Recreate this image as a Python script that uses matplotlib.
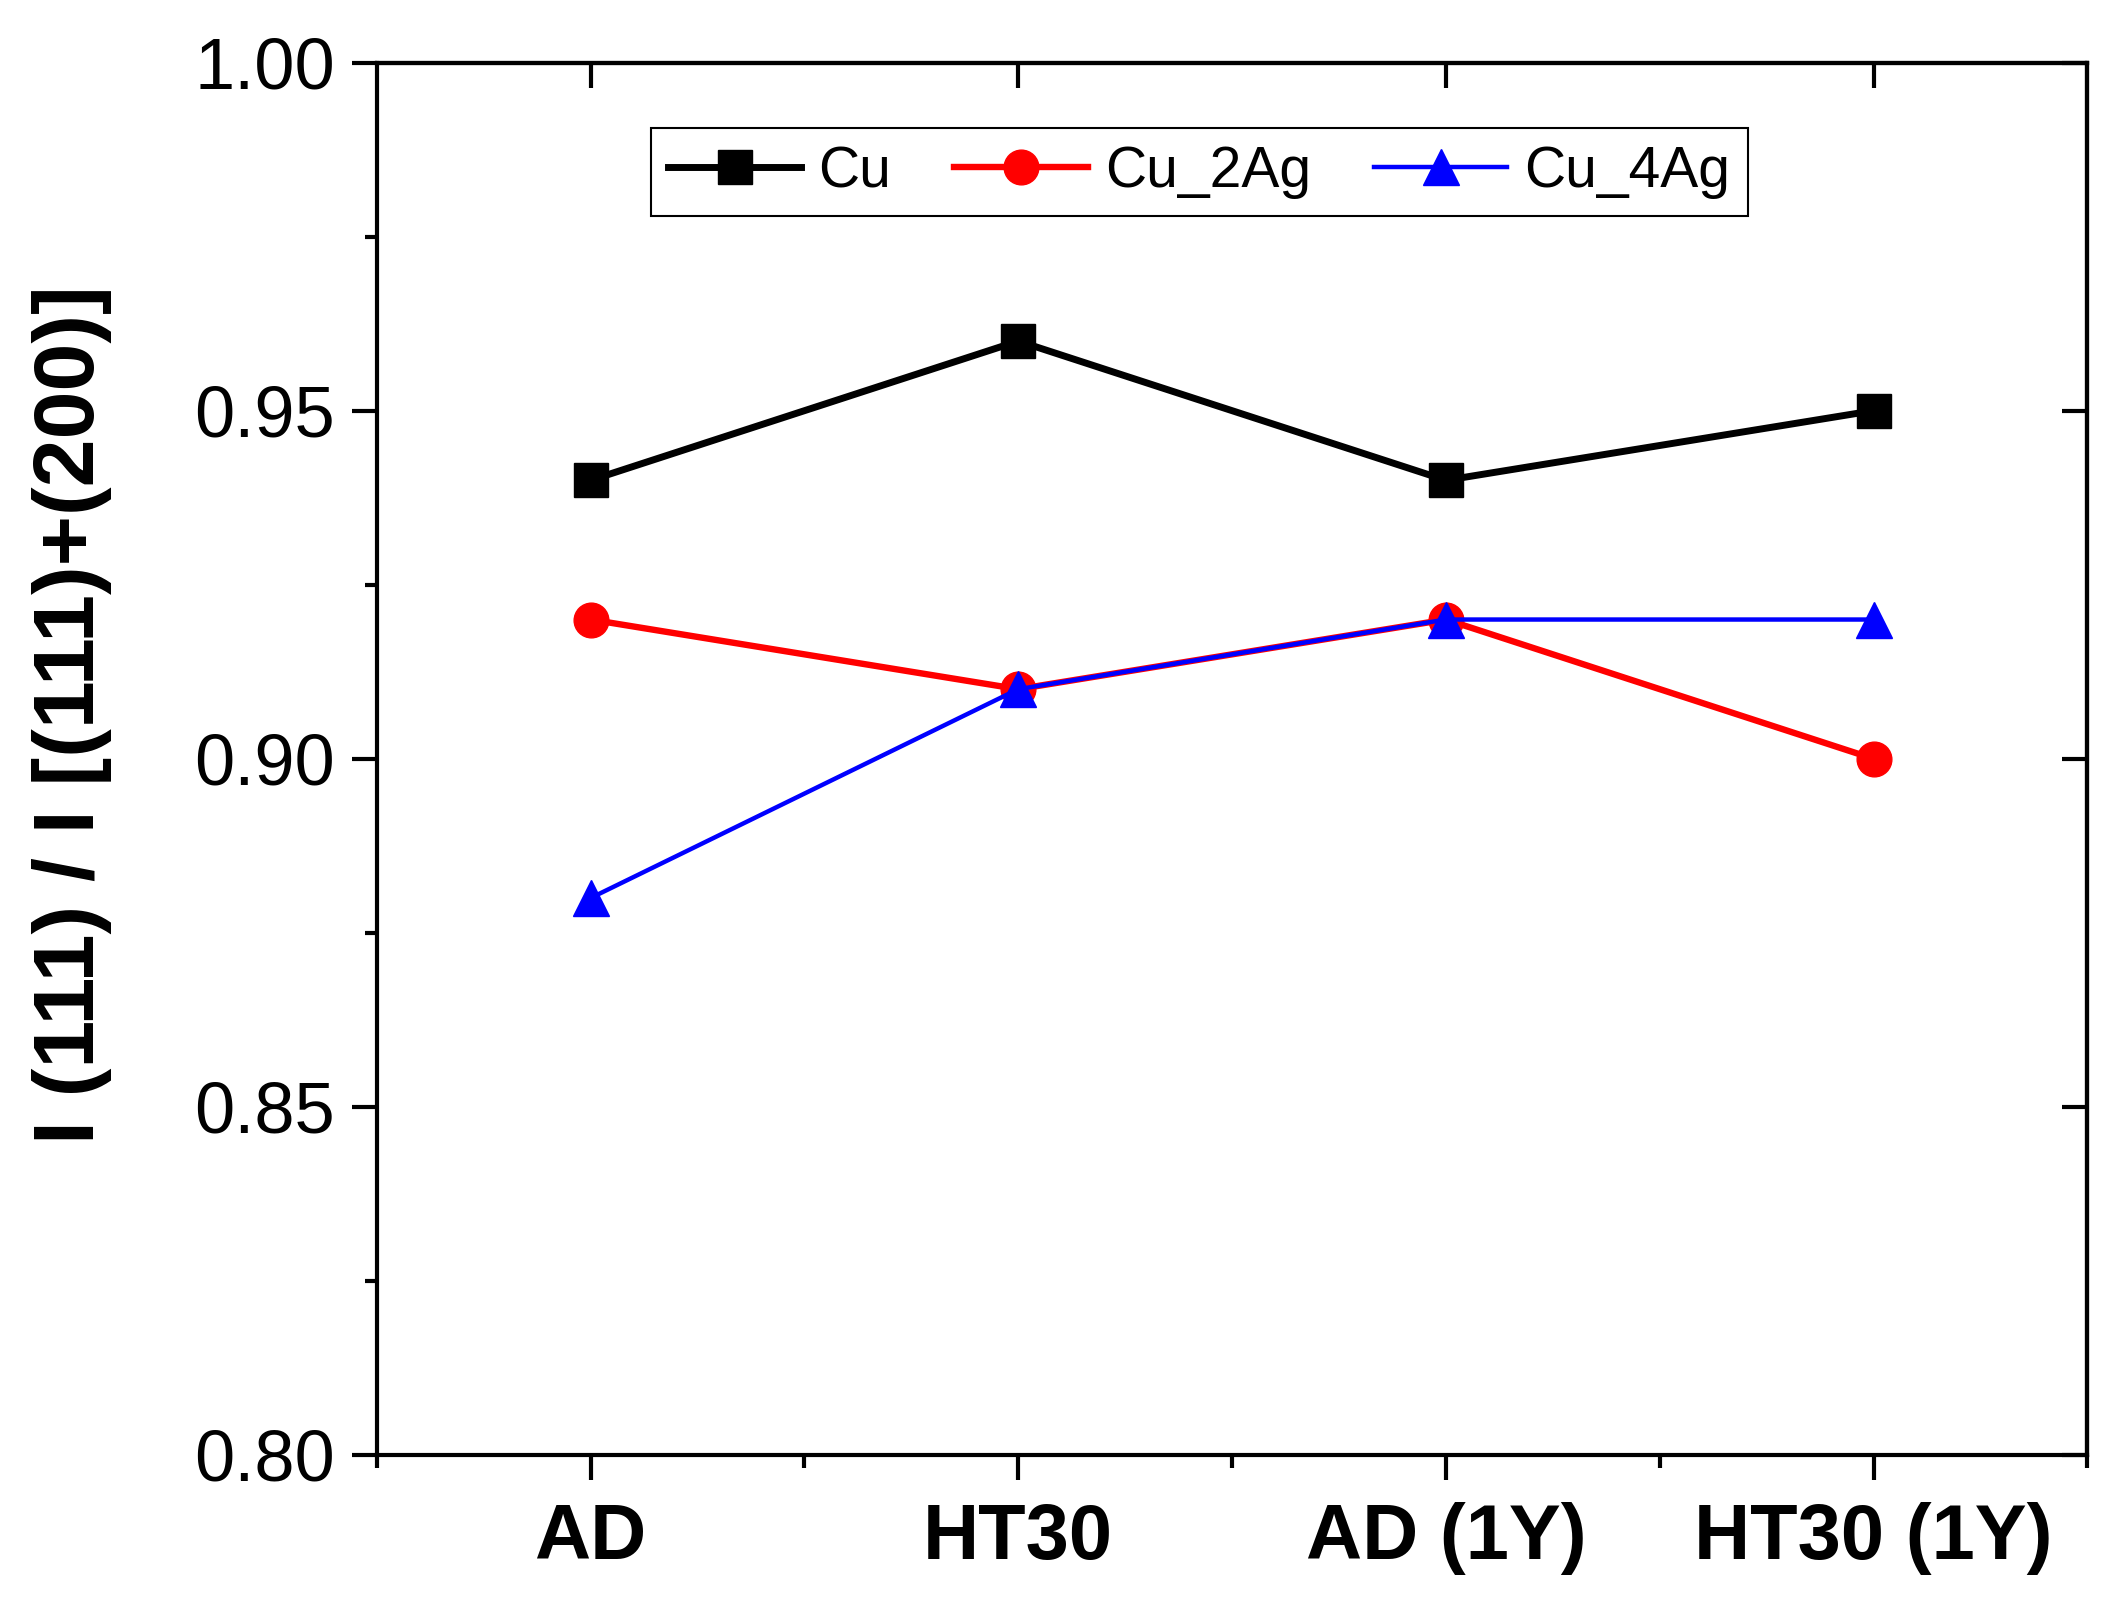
import matplotlib
matplotlib.use("Agg")
import matplotlib.pyplot as plt
from matplotlib import font_manager
from matplotlib.ticker import MultipleLocator, NullLocator

# values
samples = ["AD", "HT30", "AD (1Y)", "HT30 (1Y)"]
cu = [0.94, 0.96, 0.94, 0.95]
cu_2ag = [0.92, 0.91, 0.92, 0.90]
cu_4ag = [0.88, 0.91, 0.92, 0.92]

names = {f.name for f in font_manager.fontManager.ttflist}
base = "Liberation Sans" if "Liberation Sans" in names else "DejaVu Sans"
narrow = "Liberation Sans Narrow" if "Liberation Sans Narrow" in names else base
plt.rcParams["font.family"] = [base, "DejaVu Sans"]

fig = plt.figure(figsize=(21.17, 16.05), dpi=100)
ax = fig.add_axes([0.178, 0.0935, 0.808, 0.8675])

x = list(range(1, len(samples) + 1))
ax.plot(x, cu, color="black", lw=5, marker="s", ms=24, label="Cu", zorder=3)
ax.plot(x, cu_2ag, color="red", lw=4.6, marker="o", ms=25, label="Cu_2Ag", zorder=4)
ax.plot(x, cu_4ag, color="blue", lw=3.2, marker="^", ms=26, label="Cu_4Ag", zorder=5)

ax.set_xlim(0.5, 4.5)
ax.set_ylim(0.80, 1.00)
ax.set_xticks(x)
ax.set_xticklabels(samples, fontsize=56, fontweight="bold")
ax.set_xticks([0.5, 1.5, 2.5, 3.5, 4.5], minor=True)
ax.set_yticks([0.80, 0.85, 0.90, 0.95, 1.00])
ax.set_yticklabels(["0.80", "0.85", "0.90", "0.95", "1.00"], fontsize=52)
ax.yaxis.set_minor_locator(MultipleLocator(0.025))

ax.set_ylabel("I (111) / I [(111)+(200)]", fontsize=62, fontweight="bold", labelpad=52)
ax.yaxis.set_label_coords(-0.155, 0.532)

for s in ax.spines.values():
    s.set_linewidth(3)

ax.tick_params(axis="both", which="major", direction="out", length=18, width=3, pad=12)
ax.tick_params(axis="both", which="minor", direction="out", length=9, width=3)
ax.tick_params(axis="x", which="major", pad=16)

# inward major ticks on top and right
top = ax.secondary_xaxis("top")
top.set_xticks(x)
top.set_xticklabels([])
top.tick_params(direction="in", length=18, width=3)
top.xaxis.set_minor_locator(NullLocator())
right = ax.secondary_yaxis("right")
right.set_yticks([0.80, 0.85, 0.90, 0.95, 1.00])
right.set_yticklabels([])
right.tick_params(direction="in", length=18, width=3)
right.yaxis.set_minor_locator(NullLocator())
for s in list(top.spines.values()) + list(right.spines.values()):
    s.set_linewidth(3)

leg = ax.legend(loc="upper left", bbox_to_anchor=(0.160, 0.953), borderaxespad=0,
                ncol=3, fancybox=False, framealpha=1, edgecolor="black",
                handlelength=2.35, handletextpad=0.3, columnspacing=1.1,
                borderpad=0.3, prop={"family": narrow, "size": 41})
leg.get_frame().set_linewidth(1.5)

fig.savefig("out.png", dpi=100)
